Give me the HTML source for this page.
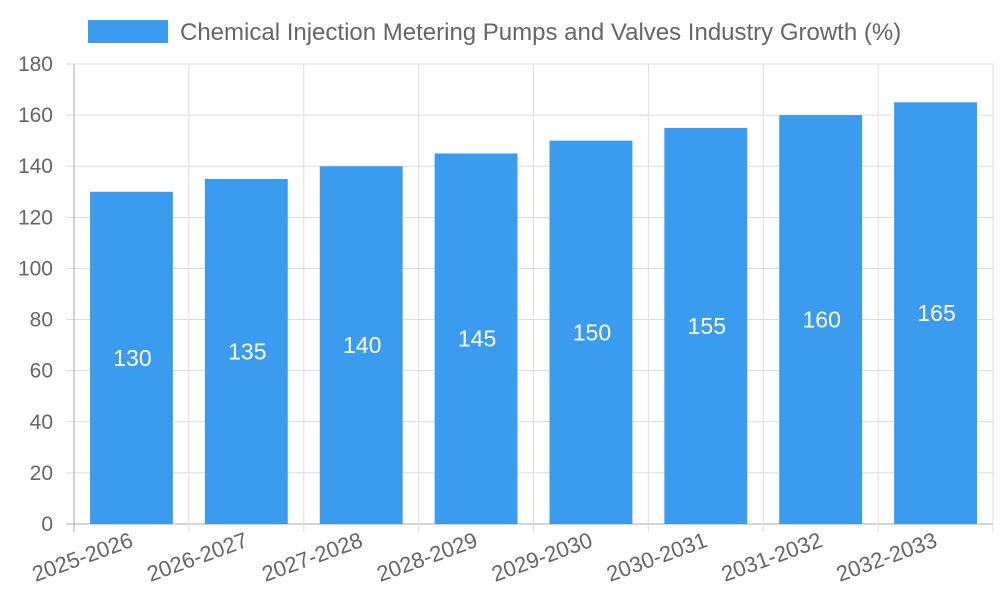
<!DOCTYPE html>
<html><head><meta charset="utf-8">
<style>
html,body{margin:0;padding:0;background:#fff;}
svg{display:block;font-family:"Liberation Sans",Arial,sans-serif;}
</style></head>
<body>
<svg id="chart" width="1000" height="600" viewBox="0 0 1000 600" xmlns="http://www.w3.org/2000/svg">
  <g>
    <rect x="88" y="20" width="80" height="23" fill="#3a9bef"/>
    <text x="180" y="40" font-size="24" fill="#666">Chemical Injection Metering Pumps and Valves Industry Growth (%)</text>
  </g>
  <g id="grid"></g>
  <g id="bars"></g>
  <g id="axes"></g>
</svg>
<script>
const categories = ["2025-2026","2026-2027","2027-2028","2028-2029","2029-2030","2030-2031","2031-2032","2032-2033"];
const values = [130,135,140,145,150,155,160,165];
const yTicks = [0,20,40,60,80,100,120,140,160,180];

const NS = "http://www.w3.org/2000/svg";
const L = 74, R = 993, T = 64, B = 524, YMAX = 180;
const bw = (R - L) / categories.length;
function y(v){ return B - (v / YMAX) * (B - T); }
function x(i){ return L + i * bw; }
function mk(tag, attrs, parent){
  const e = document.createElementNS(NS, tag);
  for (const k in attrs) e.setAttribute(k, attrs[k]);
  parent.appendChild(e); return e;
}
const grid = document.getElementById("grid");
const bars = document.getElementById("bars");
const axes = document.getElementById("axes");

yTicks.forEach(t => {
  const gl = mk("line", {x1:66, x2:R, y1:y(t), y2:y(t), stroke: t===0 ? "#aaa" : "#ddd", "stroke-width":1}, grid);
  
  
  const lb = mk("text", {x:53, y:y(t)+7, "font-size":21, fill:"#666", "text-anchor":"end"}, axes);
  lb.textContent = t;
  
  
});
for (let i = 0; i <= categories.length; i++){
  const gl = mk("line", {x1:x(i), x2:x(i), y1:T, y2:B+8, stroke: i===0 ? "#aaa" : "#ddd", "stroke-width":1}, grid);
  
  
}
categories.forEach((c, i) => {
  const pad = 16;
  const r = mk("rect", {x:x(i)+pad, y:y(values[i]), width:bw-2*pad, height:B-y(values[i]), fill:"#3a9bef"}, bars);
  
  
  const cx = x(i) + bw/2;
  const v = mk("text", {x:cx+1, y:(y(values[i])+B)/2+8, "font-size":23, fill:"#fff", "text-anchor":"middle"}, bars);
  v.textContent = values[i];
  
  
  const lx = cx + 3, ly = 546;
  const lb = mk("text", {x:lx, y:ly, "font-size":22, fill:"#666", "text-anchor":"end", transform:"rotate(-20 "+lx+" "+ly+")"}, axes);
  lb.textContent = c;
  
  
});
</script>
</body></html>
